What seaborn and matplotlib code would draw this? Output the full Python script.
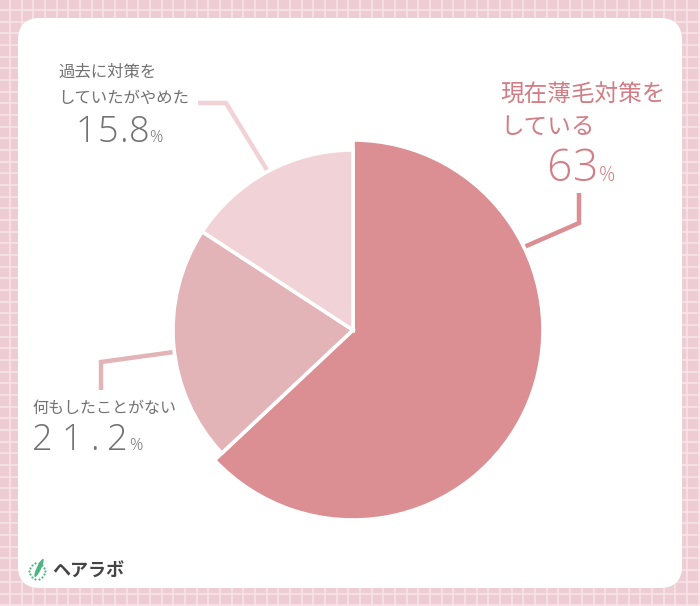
import numpy as np
import matplotlib
matplotlib.use("Agg")
import matplotlib.pyplot as plt
import seaborn as sns
from matplotlib.patches import FancyBboxPatch, Ellipse

# ---- data ----
categories = ["現在薄毛対策を\nしている", "何もしたことがない", "過去に対策を\nしていたがやめた"]
values = [63.0, 21.2, 15.8]
value_labels = ["63", "21.2", "15.8"]
slice_colors = ["#DB8F93", "#E2B3B7", "#F0D2D7"]
line_colors = ["#DB8F93", "#E2B3B7", "#F0D2D7"]

sns.set_theme(style="white")
plt.rcParams["font.family"] = ["Noto Sans CJK JP", "DejaVu Sans"]
NUMFONT = ["Open Sans", "DejaVu Sans"]

W, H = 700, 606
fig = plt.figure(figsize=(7.0, 6.06), dpi=100)
ax = fig.add_axes([0, 0, 1, 1])

def Y(y):
    return H - y

# background grid
fig.patch.set_facecolor("#EDCCD3")
ax.set_facecolor("#EDCCD3")
for k in np.arange(10, W, 11.67):
    ax.plot([k, k], [0, H], color="#F8E6EA", lw=1.1, zorder=0)
for k in np.arange(10, H, 11.67):
    ax.plot([0, W], [Y(k), Y(k)], color="#F8E6EA", lw=1.1, zorder=0)

card = FancyBboxPatch((18, Y(588)), 664, 570, boxstyle="round,pad=0,rounding_size=22",
                      fc="white", ec="none", zorder=1)
ax.add_patch(card)

cx, cy = 353, Y(330)
wedges, _ = ax.pie(values, colors=slice_colors, startangle=90, counterclock=False,
                   center=(cx, cy), radius=190,
                   wedgeprops=dict(edgecolor="white", linewidth=2.6))
for w, r in zip(wedges, [190, 180, 180]):
    w.set_radius(r)
    w.set_zorder(3)

ax.set_xlim(0, W)
ax.set_ylim(0, H)
ax.set_aspect("equal")
ax.axis("off")

# leader lines
ax.plot([524, 579, 579], [Y(247), Y(223), Y(193)], color=line_colors[0], lw=3.2,
        solid_capstyle="butt", solid_joinstyle="miter", zorder=2)
ax.plot([174, 101, 101], [Y(352), Y(362), Y(390)], color=line_colors[1], lw=3.2,
        solid_capstyle="butt", solid_joinstyle="miter", zorder=2)
ax.plot([267, 226, 198], [Y(170), Y(103), Y(103)], color=line_colors[2], lw=3.2,
        solid_capstyle="butt", solid_joinstyle="miter", zorder=2)

gray = "#727272"
pink = "#D27D85"

renderer = fig.canvas.get_renderer()

def tracked_number(x_left, y_base, s, size, pct_size, color, gap, pct_gap):
    x = x_left
    for ch in s:
        t = ax.text(x, Y(y_base), ch, fontsize=size, color=color, ha="left", va="baseline",
                    family=NUMFONT, fontweight="light", zorder=5)
        bb = t.get_window_extent(renderer)
        x += bb.width + gap
    x += pct_gap - gap
    ax.text(x, Y(y_base), "%", fontsize=pct_size, color=color, ha="left", va="baseline",
            family=NUMFONT, fontweight="light", zorder=5)

# labels
ax.text(500, Y(95), "現在薄毛対策を", fontsize=17, color=pink, ha="left", va="center", zorder=5)
ax.text(500, Y(127), "している", fontsize=17, color=pink, ha="left", va="center", zorder=5)
tracked_number(546, 181, value_labels[0], 32, 14.5, pink, 2, 0)

ax.text(32, Y(408), "何もしたことがない", fontsize=11.5, color=gray, ha="left", va="center", zorder=5)
tracked_number(32, 450, value_labels[1], 26, 12, gray, 8.5, 1)

ax.text(58, Y(72), "過去に対策を", fontsize=11.8, color=gray, ha="left", va="center", zorder=5)
ax.text(58, Y(98), "していたがやめた", fontsize=11.8, color=gray, ha="left", va="center", zorder=5)
tracked_number(76, 142, value_labels[2], 26, 12, gray, 1, 0)

# logo
green = "#4DB584"
ang = np.linspace(0, 2 * np.pi, 14, endpoint=False)
ax.scatter(37 + 8 * np.cos(ang), Y(571) + 8 * np.sin(ang), s=2.5, color=green, zorder=5, lw=0)
ax.add_patch(Ellipse((39, Y(568)), 4.5, 20, angle=-25, fc=green, ec="none", zorder=5))
ax.text(52, Y(571), "ヘアラボ", fontsize=13, color="#444444", ha="left", va="center",
        fontweight="bold", zorder=5)

fig.savefig("out.png", dpi=100, facecolor=fig.get_facecolor())
